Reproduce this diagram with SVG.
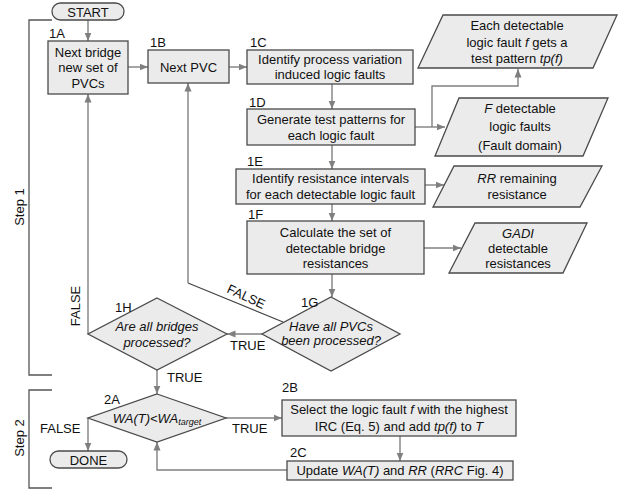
<svg xmlns="http://www.w3.org/2000/svg" width="632" height="492" viewBox="0 0 632 492">
<defs>
<marker id="ah" markerWidth="9" markerHeight="8" refX="8.5" refY="4" orient="auto" markerUnits="userSpaceOnUse">
<path d="M0,0.5 L8.5,4 L0,7.5 z" fill="#7f7f7f"/>
</marker>
</defs>
<style>
text{font-family:"Liberation Sans",Arial,sans-serif;font-size:13px;fill:#111}
.c{text-anchor:middle}
.i{font-style:italic}
.n{stroke:#4a4a4a;stroke-width:1.3;fill:#ebebeb}
.e{fill:none;stroke:#808080;stroke-width:1.4}
.a{marker-end:url(#ah)}
.br{fill:none;stroke:#555;stroke-width:1.3}
</style>
<rect width="632" height="492" fill="#fff"/>

<g id="brackets">
<path class="br" d="M52,20 H29 V375 H52"/>
<path class="br" d="M52,390 H29 V488 H52"/>
<text class="c" transform="translate(24,207) rotate(-90)">Step 1</text>
<text class="c" transform="translate(24,438) rotate(-90)">Step 2</text>
</g>

<g id="connectors">
<path class="e a" d="M88,20 V41"/>
<path class="e a" d="M128,67 H148"/>
<path class="e a" d="M229,67 H247"/>
<path class="e a" d="M332,84 V109"/>
<path class="e a" d="M332,145 V169"/>
<path class="e a" d="M332,204 V221"/>
<path class="e a" d="M332,274 V297"/>
<path class="e a" d="M415,127 H445"/>
<path class="e a" d="M432,127 V86 H518 V69"/>
<path class="e a" d="M425,185 H444"/>
<path class="e a" d="M424,248 H461"/>
<path class="e a" d="M262,334 H227"/>
<path d="M283,322 L188,283" fill="none" stroke="#404040" stroke-width="1.1"/>
<path class="e a" d="M188,283 V83"/>
<path class="e a" d="M88,334 V94"/>
<path class="e a" d="M157,370 V394"/>
<path class="e a" d="M226,418 H282"/>
<path class="e a" d="M88,418 V451"/>
<path class="e a" d="M400,436 V461"/>
<path class="e a" d="M287,470 H157 V442"/>
<text transform="translate(246,297) rotate(25)" class="c" dy="4">FALSE</text>
<text transform="translate(80,306) rotate(-90)" class="c">FALSE</text>
<text x="230" y="350">TRUE</text>
<text x="167" y="382">TRUE</text>
<text x="232" y="433">TRUE</text>
<text x="40" y="433">FALSE</text>
</g>

<g id="start">
<rect class="n" x="52" y="3" width="72" height="17" rx="8.5"/>
<text class="c" x="88" y="16.5">START</text>
</g>

<g id="n1A">
<rect class="n" x="48" y="41" width="80" height="53"/>
<text x="49" y="38">1A</text>
<text class="c" x="88" y="57">Next bridge</text>
<text class="c" x="88" y="72">new set of</text>
<text class="c" x="88" y="88">PVCs</text>
</g>

<g id="n1B">
<rect class="n" x="148" y="50" width="81" height="33"/>
<text x="150" y="47">1B</text>
<text class="c" x="188.5" y="71.5">Next PVC</text>
</g>

<g id="n1C">
<rect class="n" x="247" y="50" width="166" height="34"/>
<text x="250" y="47">1C</text>
<text class="c" x="330" y="63.5">Identify process variation</text>
<text class="c" x="330" y="78.5">induced logic faults</text>
</g>

<g id="n1D">
<rect class="n" x="247" y="109" width="168" height="36"/>
<text x="249" y="107">1D</text>
<text class="c" x="331" y="123.5">Generate test patterns for</text>
<text class="c" x="331" y="140">each logic fault</text>
</g>

<g id="n1E">
<rect class="n" x="236" y="169" width="189" height="35"/>
<text x="247" y="166">1E</text>
<text class="c" x="330.5" y="182.5">Identify resistance intervals</text>
<text class="c" x="330.5" y="198.5">for each detectable logic fault</text>
</g>

<g id="n1F">
<rect class="n" x="247" y="221" width="177" height="53"/>
<text x="248" y="219">1F</text>
<text class="c" x="335.5" y="236.5">Calculate the set of</text>
<text class="c" x="335.5" y="252.5">detectable bridge</text>
<text class="c" x="335.5" y="268">resistances</text>
</g>

<g id="n1G">
<polygon class="n" points="331,297 400,334 331,371 262,334"/>
<text x="301" y="307">1G</text>
<text class="c i" x="331" y="331">Have all PVCs</text>
<text class="c i" x="331" y="345">been processed?</text>
</g>

<g id="n1H">
<polygon class="n" points="157,298 227,334 157,370 88,334"/>
<text x="115" y="312">1H</text>
<text class="c i" x="157" y="331">Are all bridges</text>
<text class="c i" x="157" y="347">processed?</text>
</g>

<g id="n2A">
<polygon class="n" points="157,394 226,418 157,442 88,418"/>
<text x="104" y="404">2A</text>
<text class="c i" x="157" y="422.5">WA(T)&lt;WA<tspan font-size="9" dy="2">target</tspan></text>
</g>

<g id="done">
<rect class="n" x="50" y="451" width="77" height="17" rx="8.5"/>
<text class="c" x="88.5" y="464.5">DONE</text>
</g>

<g id="n2B">
<rect class="n" x="282" y="400" width="234" height="36"/>
<text x="282" y="392">2B</text>
<text class="c" x="399" y="413.5">Select the logic fault <tspan class="i">f</tspan> with the highest</text>
<text class="c" x="399" y="430.5">IRC (Eq. 5) and add <tspan class="i">tp(f)</tspan> to <tspan class="i">T</tspan></text>
</g>

<g id="n2C">
<rect class="n" x="287" y="461" width="226" height="19"/>
<text x="290" y="457">2C</text>
<text class="c" x="400" y="475">Update <tspan class="i">WA(T)</tspan>  and <tspan class="i">RR</tspan> (<tspan class="i">RRC</tspan> Fig. 4)</text>
</g>

<g id="p1">
<polygon class="n" points="443,15 617,15 593,68 418,68"/>
<text class="c" x="517" y="29.5">Each detectable</text>
<text class="c" x="517" y="46.5">logic fault <tspan class="i">f</tspan> gets a</text>
<text class="c" x="517" y="63">test pattern <tspan class="i">tp(f)</tspan></text>
</g>

<g id="p2">
<polygon class="n" points="459,98 608,98 583,156 435,156"/>
<text class="c" x="520" y="112.5"><tspan class="i">F</tspan> detectable</text>
<text class="c" x="520" y="131">logic faults</text>
<text class="c" x="520" y="149.5">(Fault domain)</text>
</g>

<g id="p3">
<polygon class="n" points="454,166 602,166 580,207 433,207"/>
<text class="c" x="517" y="182.5"><tspan class="i">RR</tspan> remaining</text>
<text class="c" x="517" y="198.5">resistance</text>
</g>

<g id="p4">
<polygon class="n" points="475,223 587,223 563,273 449,273"/>
<text class="c i" x="518" y="237.5">GADI</text>
<text class="c" x="518" y="252.5">detectable</text>
<text class="c" x="518" y="267.5">resistances</text>
</g>
</svg>
